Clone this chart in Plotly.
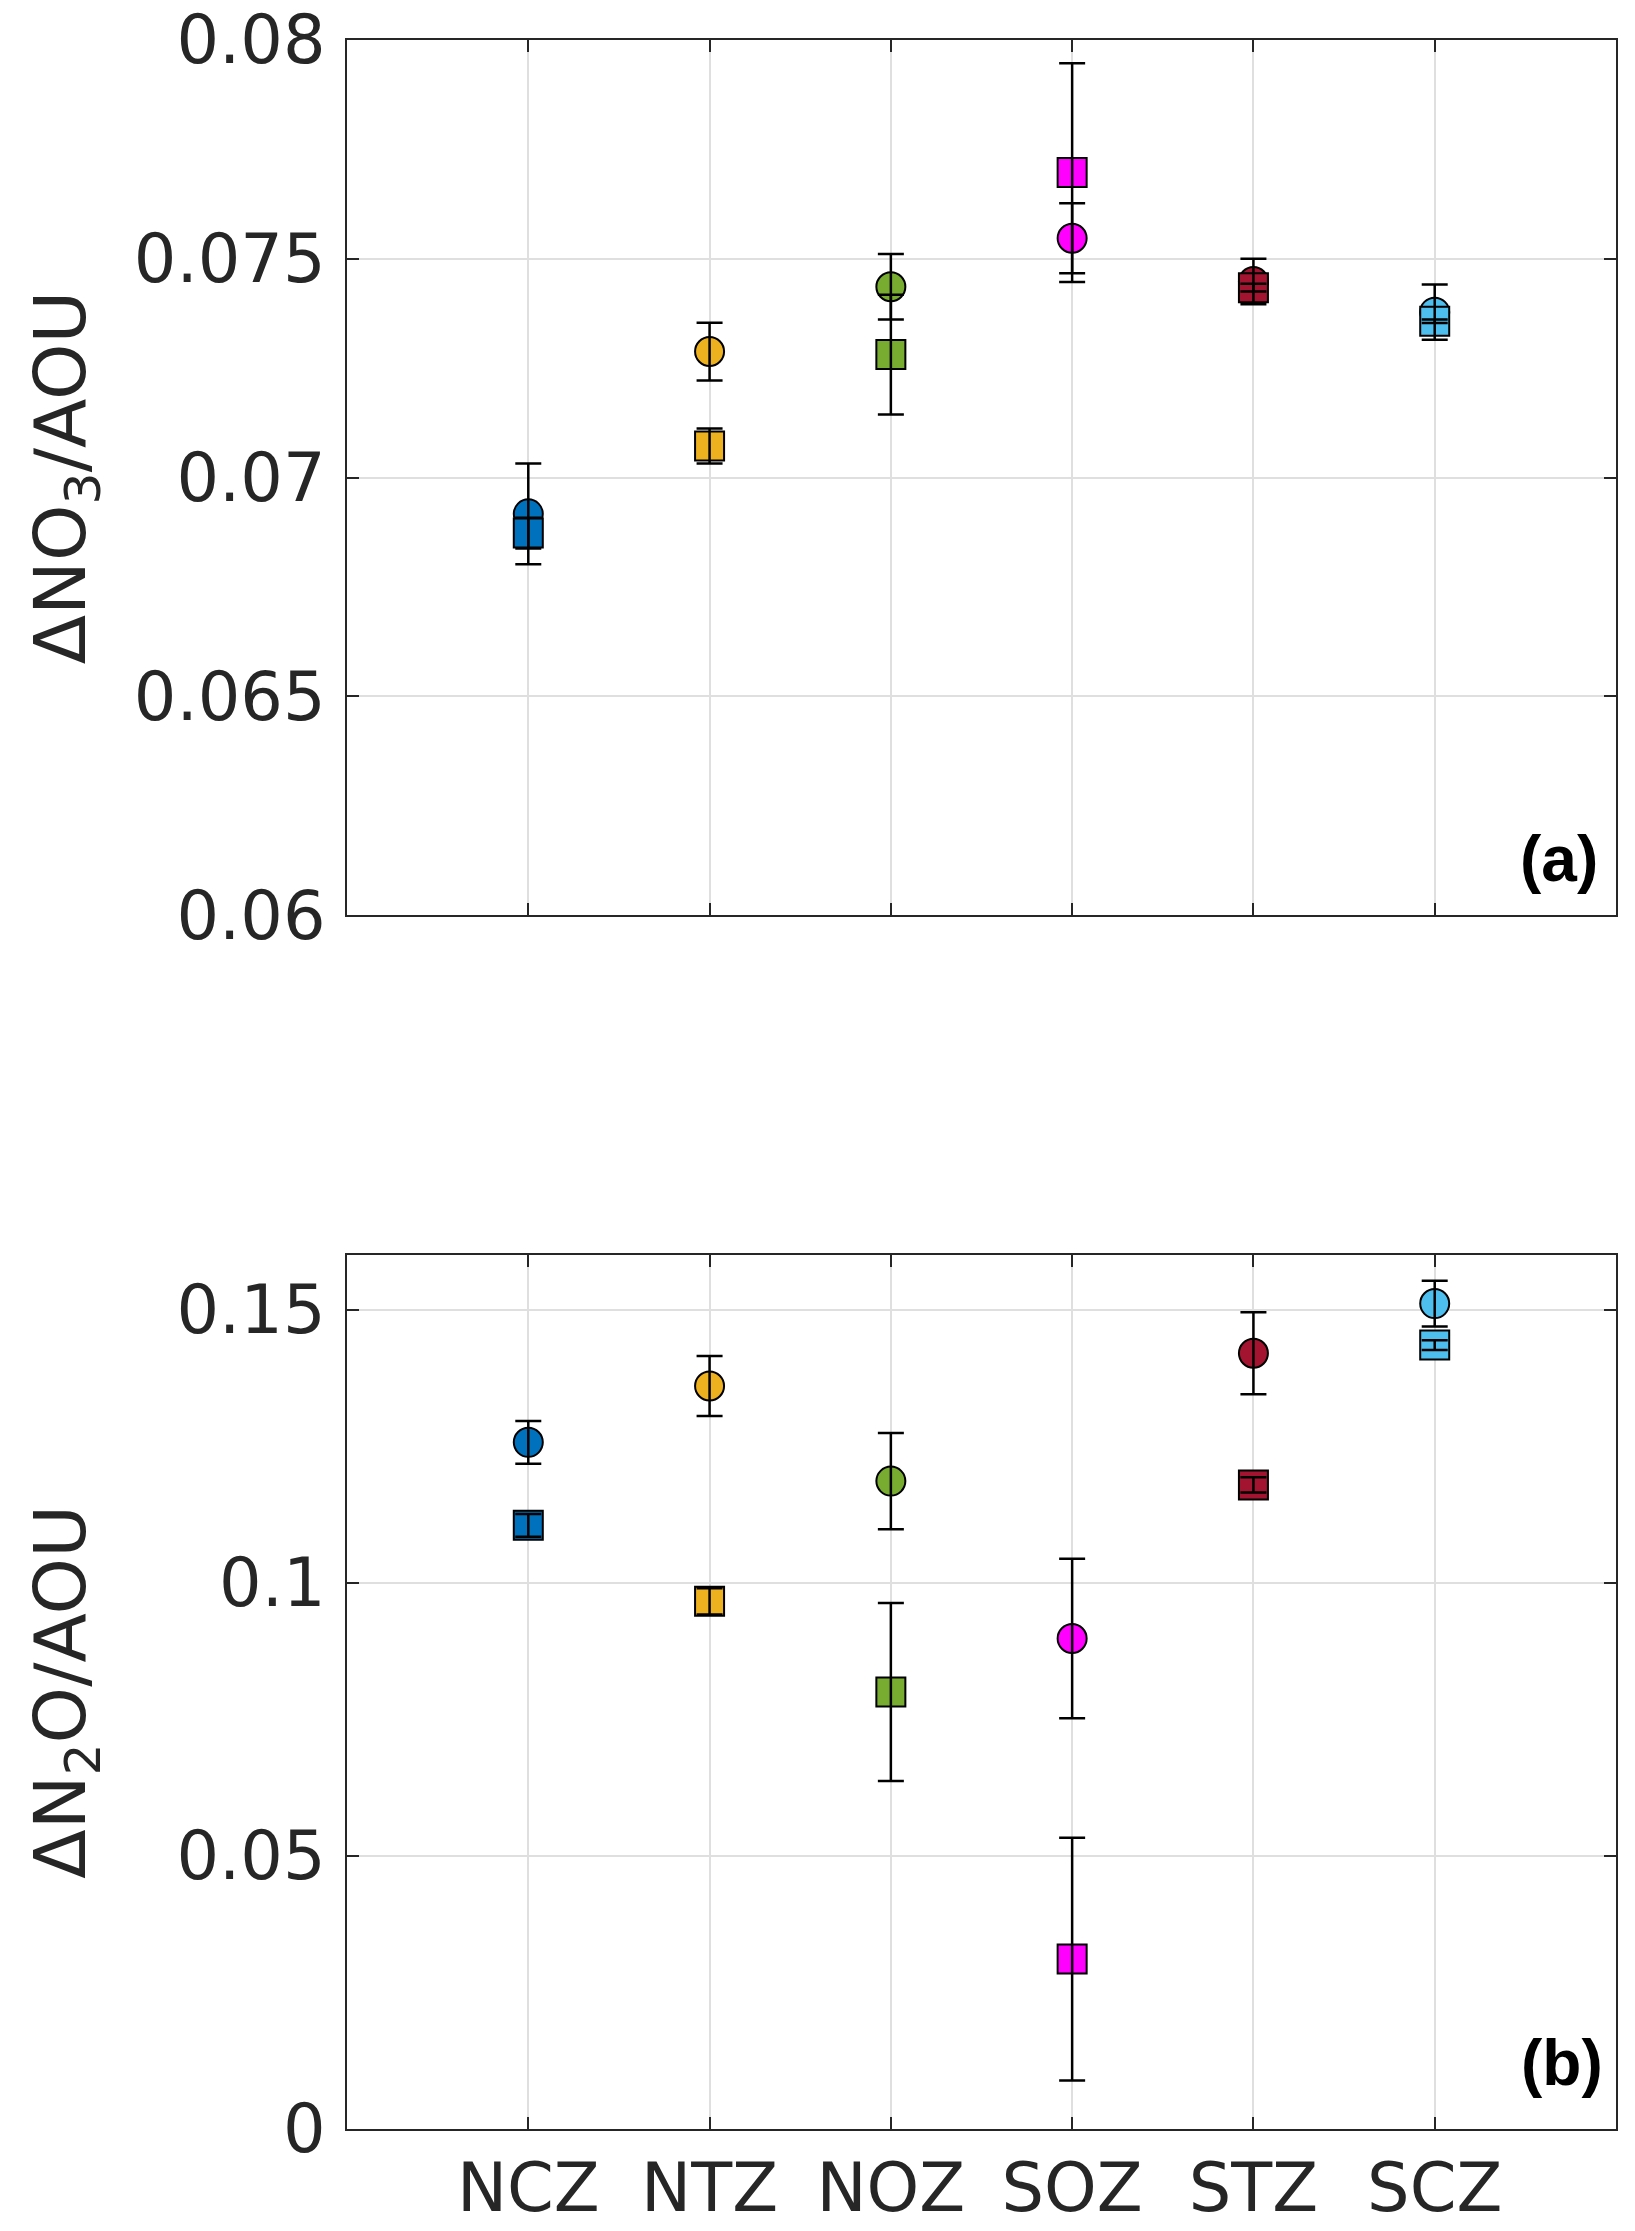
import plotly.graph_objects as go

# zones along the transect and their colours (MATLAB default palette)
zones = ['NCZ', 'NTZ', 'NOZ', 'SOZ', 'STZ', 'SCZ']
zone_x = [1, 2, 3, 4, 5, 6]
zone_colors = ['#0072BD', '#EDB120', '#77AC30', '#FF00FF', '#A2142F', '#4DBEEE']

# panel (a): dNO3/AOU
no3_circle = [0.06917, 0.07288, 0.07436, 0.07547, 0.07448, 0.07378]
no3_circle_err = [0.00115, 0.00066, 0.00075, 0.0008, 0.00052, 0.00063]
no3_square = [0.06873, 0.07072, 0.07281, 0.07697, 0.07434, 0.07357]
no3_square_err = [0.00035, 0.0004, 0.00137, 0.0025, 0.00009, 0.00004]

# panel (b): dN2O/AOU
n2o_circle = [0.1257, 0.1360, 0.1186, 0.0898, 0.1420, 0.1511]
n2o_circle_err = [0.0039, 0.0055, 0.0088, 0.0146, 0.0075, 0.0042]
n2o_square = [0.1105, 0.0966, 0.0800, 0.0311, 0.1179, 0.1435]
n2o_square_err = [0.0021, 0.0024, 0.0163, 0.0222, 0.0014, 0.0009]

no3_ticks = [0.06, 0.065, 0.07, 0.075, 0.08]
no3_ticktext = ['0.06', '0.065', '0.07', '0.075', '0.08']
n2o_ticks = [0, 0.05, 0.1, 0.15]
n2o_ticktext = ['0', '0.05', '0.1', '0.15']

TXT = '#262626'
GRID = '#dfdfdf'
MSIZE = 29


def marker_trace(y, symbol, xa, ya):
    return go.Scatter(x=zone_x, y=y, mode='markers', xaxis=xa, yaxis=ya,
                      marker=dict(symbol=symbol, size=MSIZE, color=zone_colors,
                                  line=dict(color='black', width=2)),
                      showlegend=False, hoverinfo='skip')


def error_trace(y, err, xa, ya):
    # invisible points, only the error bars, so they sit on top of the markers
    return go.Scatter(x=zone_x, y=y, mode='markers', xaxis=xa, yaxis=ya,
                      marker=dict(size=1, color='rgba(0,0,0,0)'),
                      error_y=dict(type='data', array=err, visible=True,
                                   color='black', thickness=2.5, width=13),
                      showlegend=False, hoverinfo='skip')


fig = go.Figure()
fig.add_trace(marker_trace(no3_circle, 'circle', 'x', 'y'))
fig.add_trace(marker_trace(no3_square, 'square', 'x', 'y'))
fig.add_trace(error_trace(no3_circle, no3_circle_err, 'x', 'y'))
fig.add_trace(error_trace(no3_square, no3_square_err, 'x', 'y'))

fig.add_trace(marker_trace(n2o_circle, 'circle', 'x2', 'y2'))
fig.add_trace(marker_trace(n2o_square, 'square', 'x2', 'y2'))
fig.add_trace(error_trace(n2o_circle, n2o_circle_err, 'x2', 'y2'))
fig.add_trace(error_trace(n2o_square, n2o_square_err, 'x2', 'y2'))

# automargin off, otherwise the big tick labels push the plot area around
axis_style = dict(showline=True, linecolor=TXT, linewidth=2, mirror='ticks',
                  ticks='inside', ticklen=12, tickwidth=2, tickcolor=TXT,
                  showgrid=True, gridcolor=GRID, gridwidth=2, zeroline=False,
                  automargin=False, ticklabeloverflow='allow',
                  tickfont=dict(family='DejaVu Sans', size=67, color=TXT))

top_dom = [0.5811, 1.0]
bot_dom = [0.0, 0.4184]

fig.update_layout(
    width=1635, height=2231,
    margin=dict(l=347, r=19, t=40, b=102),
    paper_bgcolor='white', plot_bgcolor='white',
    xaxis=dict(axis_style, domain=[0, 1], anchor='y', range=[0, 7],
               tickvals=zone_x, ticktext=zones, showticklabels=False),
    yaxis=dict(axis_style, domain=top_dom, anchor='x', range=[0.06, 0.08],
               tickvals=no3_ticks, ticktext=no3_ticktext, ticklabelstandoff=6),
    xaxis2=dict(axis_style, domain=[0, 1], anchor='y2', range=[0, 7],
                tickvals=zone_x, ticktext=zones, ticklabelstandoff=0),
    yaxis2=dict(axis_style, domain=bot_dom, anchor='x2', range=[0, 0.16],
                tickvals=n2o_ticks, ticktext=n2o_ticktext, ticklabelstandoff=6),
)

# y-axis titles and panel letters
fig.add_annotation(text='ΔNO<sub>3</sub>/AOU', xref='paper', yref='paper',
                   x=-0.2225, y=sum(top_dom) / 2, textangle=-90, showarrow=False,
                   xanchor='center', yanchor='middle',
                   font=dict(family='DejaVu Sans', size=72, color=TXT))
fig.add_annotation(text='ΔN<sub>2</sub>O/AOU', xref='paper', yref='paper',
                   x=-0.2225, y=sum(bot_dom) / 2, textangle=-90, showarrow=False,
                   xanchor='center', yanchor='middle',
                   font=dict(family='DejaVu Sans', size=72, color=TXT))
fig.add_annotation(text='<b>(a)</b>', xref='paper', yref='paper',
                   x=0.987, y=0.608, showarrow=False, xanchor='right', yanchor='middle',
                   font=dict(family='Liberation Sans', size=64, color='black'))
fig.add_annotation(text='<b>(b)</b>', xref='paper', yref='paper',
                   x=0.991, y=0.0316, showarrow=False, xanchor='right', yanchor='middle',
                   font=dict(family='Liberation Sans', size=64, color='black'))

# drop the default body margin so the figure sits exactly in the window
fig.write_html("out.html", config={'displayModeBar': False},
               post_script="document.body.style.margin='0';")
